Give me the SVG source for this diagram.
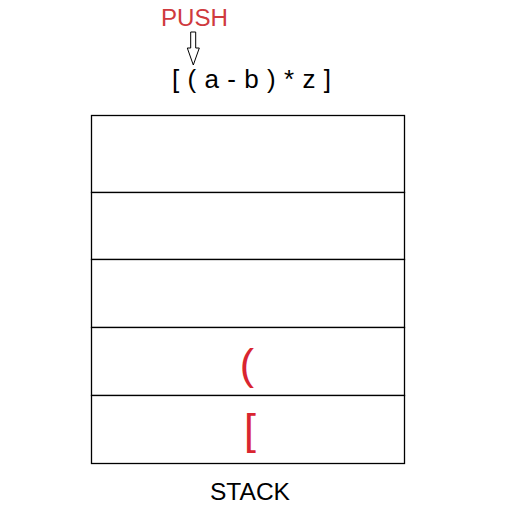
<svg xmlns="http://www.w3.org/2000/svg" width="518" height="518" viewBox="0 0 518 518">
<style>
.cell{fill:#fff;stroke:#000;stroke-width:1.3}
.t{font-family:"Liberation Sans",Arial,sans-serif}
.red{fill:#d92530}
</style>
<rect width="518" height="518" fill="#fff"/>
<text class="t" x="161" y="26" font-size="23.5" fill="#cf3a3e" textLength="67" lengthAdjust="spacingAndGlyphs">PUSH</text>
<g id="connectors">
<path d="M190.7,32 H195.7 V48 H199.3 L193.3,65 L187.3,48 H190.7 Z" fill="#fff" stroke="#000" stroke-width="1"/>
</g>
<text class="t" x="172" y="88" font-size="26" fill="#000" textLength="159" lengthAdjust="spacing">[ ( a - b ) * z ]</text>
<g id="stack">
<g id="cell1"><rect class="cell" x="91.5" y="115.5" width="313" height="77"/></g>
<g id="cell2"><rect class="cell" x="91.5" y="192.5" width="313" height="67"/></g>
<g id="cell3"><rect class="cell" x="91.5" y="259.5" width="313" height="68"/></g>
<g id="cell4"><rect class="cell" x="91.5" y="327.5" width="313" height="68"/>
<text class="t red" x="247" y="379" font-size="43" text-anchor="middle">(</text></g>
<g id="cell5"><rect class="cell" x="91.5" y="395.5" width="313" height="68"/>
<text class="t red" x="250" y="444" font-size="43" text-anchor="middle">[</text></g>
</g>
<text class="t" x="250" y="500" font-size="24.5" text-anchor="middle" fill="#000" textLength="80" lengthAdjust="spacingAndGlyphs">STACK</text>
</svg>
